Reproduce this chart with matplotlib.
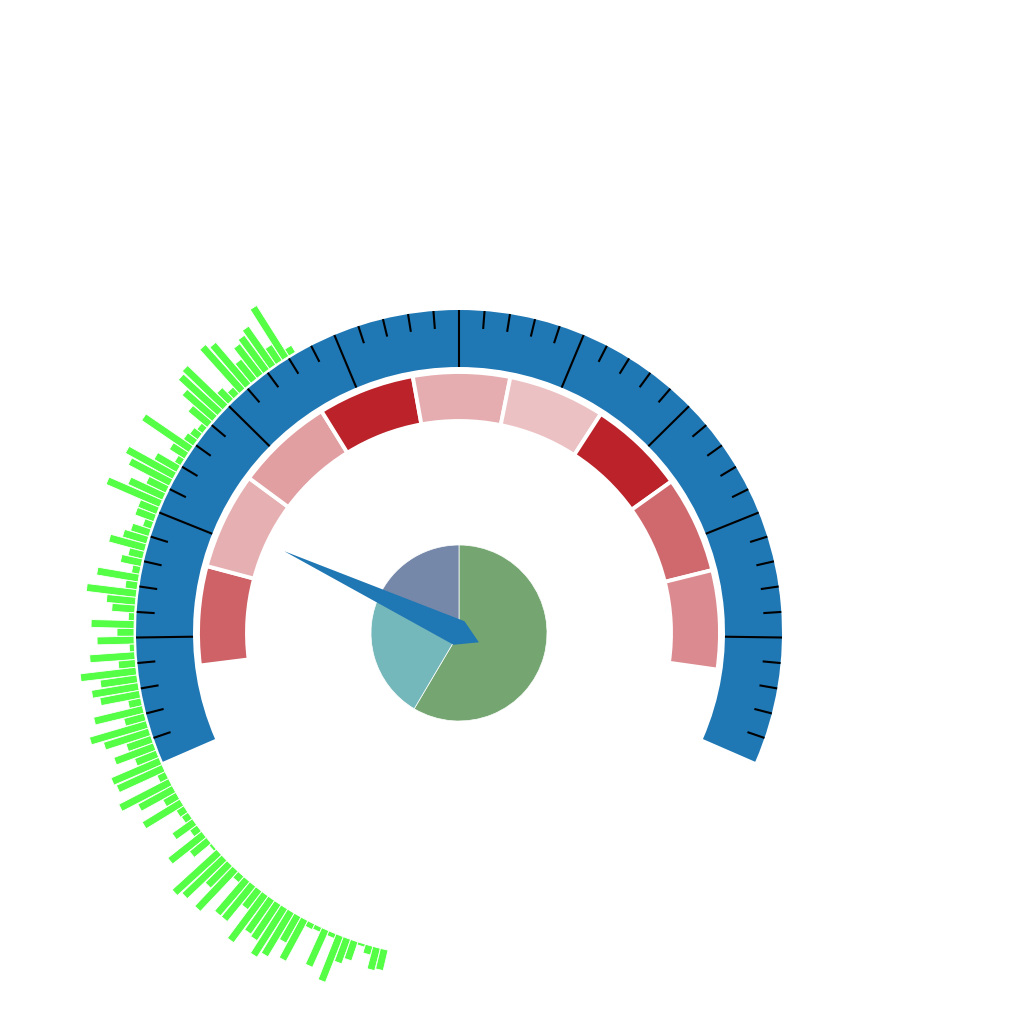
import numpy as np
import matplotlib
matplotlib.use('Agg')
import matplotlib.pyplot as plt
from matplotlib.patches import Wedge, Polygon
from matplotlib.colors import to_rgb

# gauge scale, value 0..100 spread over the arc (degrees, counter clockwise = math)
gauge_min, gauge_max = 0, 100
arc_start, arc_end = 203.5, -23.5
n_ticks = 50
major_every = 5

# coloured bands inside the gauge, edges in gauge units
band_edges = [7.2, 16.9, 26.4, 36.0, 45.5, 55.0, 64.5, 74.0, 83.5, 93.2]
band_alpha = [0.71, 0.36, 0.43, 1.0, 0.37, 0.28, 1.0, 0.68, 0.52]

needle_value = 21.4

# pie in the middle
pie_values = [58.5, 24.3, 17.2]
pie_colors = ['#75a672', '#75b8bb', '#7588aa']

# green radial bars round the left side (length in px)
bar_lengths = [8, 60, 19, 47, 42, 38, 25, 54, 59, 9,
               16, 56, 53, 40, 25, 7, 10, 12, 57, 18,
               7, 26, 54, 46, 22, 38, 58, 20, 20, 9,
               19, 25, 37, 15, 21, 8, 42, 12, 50, 29,
               23, 6, 43, 17, 37, 5, 45, 17, 56, 37,
               47, 40, 13, 50, 21, 59, 47, 26, 42, 23,
               52, 50, 9, 56, 39, 15, 44, 9, 8, 25,
               9, 43, 22, 3, 60, 55, 31, 55, 8, 45,
               45, 23, 58, 41, 43, 57, 51, 30, 46, 6,
               5, 40, 5, 49, 26, 20, 3, 9, 23, 21]
bar_theta_first, bar_theta_last = 120.9, 256.7

blue = '#1f77b4'
red = '#bb2229'
green = '#55ff46'


def val2ang(v):
    return arc_start + (arc_end - arc_start) * (v - gauge_min) / (gauge_max - gauge_min)


fig = plt.figure(figsize=(10.24, 10.24), dpi=100)
ax = fig.add_axes([0, 0, 1, 1])

# outer blue arc
r_out, r_in = 323, 266
ax.add_patch(Wedge((0, 0), r_out, arc_end, arc_start, width=r_out - r_in,
                   facecolor=blue, edgecolor='none', zorder=1))

# ticks
for k in range(1, n_ticks):
    a = np.deg2rad(val2ang(gauge_min + k * (gauge_max - gauge_min) / n_ticks))
    r1 = r_in if k % major_every == 0 else r_out - 18
    ax.plot([r1 * np.cos(a), r_out * np.cos(a)], [r1 * np.sin(a), r_out * np.sin(a)],
            color='black', lw=1.5, solid_capstyle='butt', zorder=2)

# red bands
rc = to_rgb(red)
for i in range(len(band_alpha)):
    a1 = val2ang(band_edges[i])
    a2 = val2ang(band_edges[i + 1])
    ax.add_patch(Wedge((0, 0), 261, a2, a1, width=49,
                       facecolor=(rc[0], rc[1], rc[2], band_alpha[i]),
                       edgecolor='white', linewidth=2.8, zorder=2))

# green bars
bar_theta = np.linspace(bar_theta_first, bar_theta_last, len(bar_lengths))
r0, w = 325, 7.8
for th, L in zip(bar_theta, bar_lengths):
    t = np.deg2rad(th)
    u = np.array([np.cos(t), np.sin(t)])
    v = np.array([-np.sin(t), np.cos(t)])
    pts = [r0 * u - w / 2 * v, (r0 + L) * u - w / 2 * v,
           (r0 + L) * u + w / 2 * v, r0 * u + w / 2 * v]
    ax.add_patch(Polygon(pts, closed=True, facecolor=green, edgecolor='white',
                         linewidth=0.6, zorder=3))

# pie
ax.pie(pie_values, colors=pie_colors, startangle=90, counterclock=False,
       radius=88, center=(0, 0), wedgeprops=dict(edgecolor='white', linewidth=0.5))

# needle
tn = np.deg2rad(val2ang(needle_value))
needle = [(193 * np.cos(tn), 193 * np.sin(tn)),
          (13 * np.cos(tn + np.pi / 2), 13 * np.sin(tn + np.pi / 2)),
          (22 * np.cos(tn + np.pi), 22 * np.sin(tn + np.pi)),
          (13 * np.cos(tn - np.pi / 2), 13 * np.sin(tn - np.pi / 2))]
ax.add_patch(Polygon(needle, closed=True, facecolor=blue, edgecolor='none', zorder=5))

cx, cy = 459, 633
ax.set_xlim(-cx, 1024 - cx)
ax.set_ylim(-(1024 - cy), cy)
ax.set_aspect('equal')
ax.axis('off')

plt.savefig('out.png', dpi=100)
